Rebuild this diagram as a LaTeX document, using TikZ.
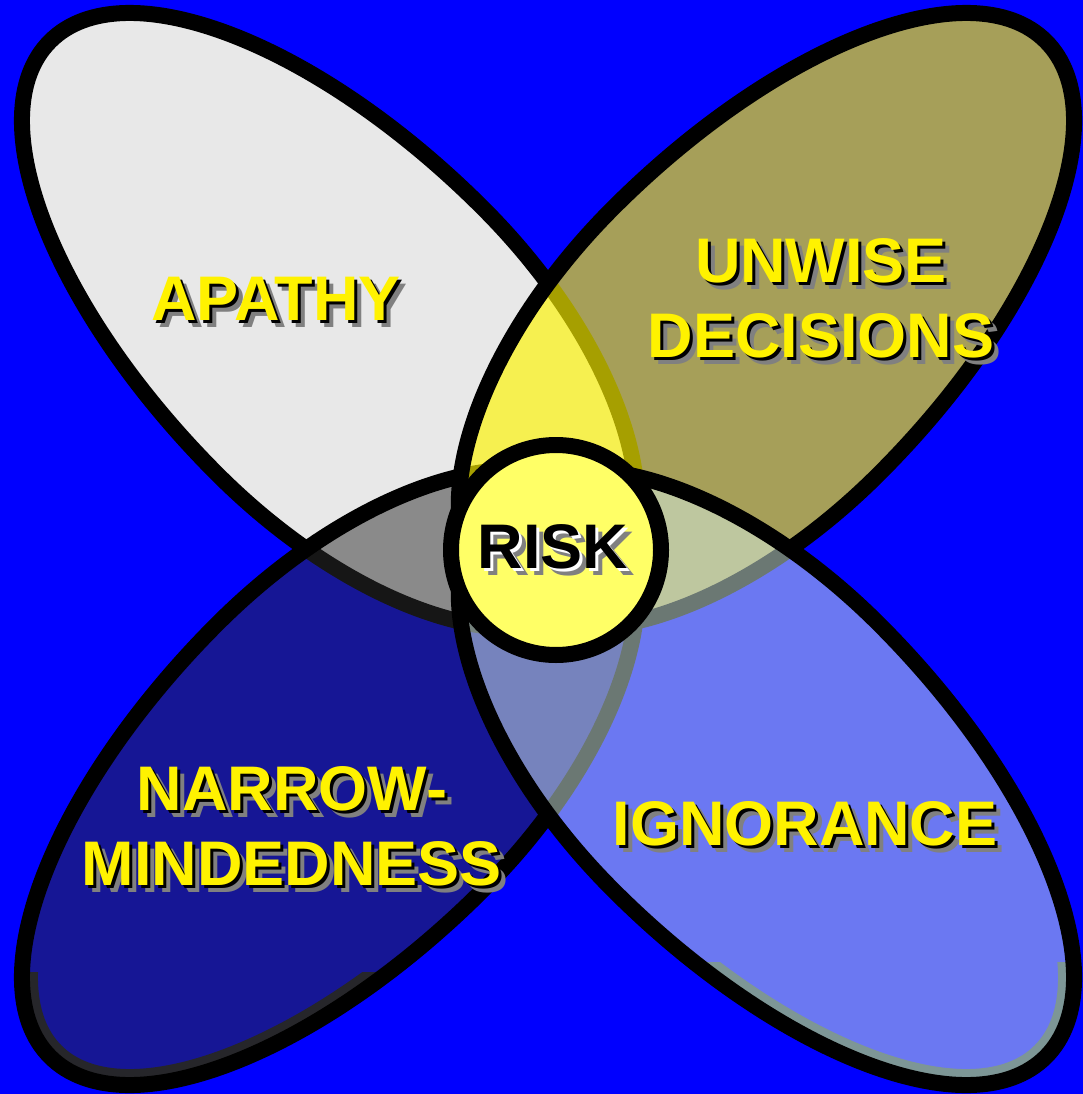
\documentclass[tikz,border=0pt]{standalone}
\usepackage{fontspec}
\setmainfont{Liberation Sans}

\definecolor{bgblue}{RGB}{0,0,255}
\definecolor{apathygray}{RGB}{232,232,232}
\definecolor{narrowink}{RGB}{45,45,45}
\definecolor{unwiseink}{RGB}{255,245,0}
\definecolor{ignorink}{RGB}{215,240,230}
\definecolor{riskyellow}{RGB}{255,255,102}
\definecolor{shadegray}{RGB}{128,128,128}
\definecolor{narrowband}{RGB}{38,38,42}
\definecolor{ignorband}{RGB}{125,150,150}

% name, position, front colour, middle colour, text
\newcommand{\shadeword}[5]{%
  \node[word, text=shadegray, xshift=7pt, yshift=-7pt] (#1-g) at (#2) {#5};
  \node[word, text=#4, xshift=3pt, yshift=-3pt] (#1-m) at (#2) {#5};
  \node[word, text=#3] (#1) at (#2) {#5};}

\begin{document}
\begin{tikzpicture}[x=1pt, y=-1pt, line join=round,
    petal/.style={line width=16pt},
    petalpath/.style={insert path={(0,-188) arc[start angle=-90, end angle=90, x radius=360, y radius=188]
      arc[start angle=90, end angle=270, x radius=424, y radius=188] -- cycle}},
    word/.style={inner sep=0pt, align=center, font=\fontsize{63}{75}\selectfont\bfseries}]
\fill[bgblue] (0,0) rectangle (1083,1094);
\useasboundingbox (0,0) rectangle (1083,1094);

\coordinate (apathy-c) at (350,341);
\coordinate (narrow-c) at (350,757);
\coordinate (unwise-c) at (746,341);
\coordinate (ignor-c)  at (746,757);

% apathy (bottom)
\begin{scope}[shift={(apathy-c)}, rotate=-45]
  \filldraw[petal, fill=apathygray, petalpath];
\end{scope}

% narrow-mindedness
\begin{scope}[shift={(narrow-c)}, rotate=45]
  \fill[narrowink, fill opacity=0.5, petalpath];
\end{scope}
\begin{scope}
  \clip (0,972) rectangle (1083,1094);
  \begin{scope}[shift={(narrow-c)}, rotate=45]
    \clip[petalpath];
    \draw[narrowband, line width=32pt, petalpath];
  \end{scope}
\end{scope}
\begin{scope}[shift={(narrow-c)}, rotate=45]
  \draw[petal, petalpath];
\end{scope}

% unwise decisions
\begin{scope}[shift={(unwise-c)}, rotate=-135]
  \filldraw[petal, fill=unwiseink, fill opacity=0.65, petalpath];
\end{scope}

% ignorance
\begin{scope}[shift={(ignor-c)}, rotate=135]
  \fill[ignorink, fill opacity=0.5, petalpath];
\end{scope}
\begin{scope}
  \clip (0,962) rectangle (1083,1094);
  \begin{scope}[shift={(ignor-c)}, rotate=135]
    \clip[petalpath];
    \draw[ignorband, line width=32pt, petalpath];
  \end{scope}
\end{scope}
\begin{scope}[shift={(ignor-c)}, rotate=135]
  \draw[petal, petalpath];
\end{scope}

% centre
\node[circle, draw, line width=16pt, fill=riskyellow, minimum size=210pt] (risk-c) at (556,550) {};

\shadeword{apathy}{276,299}{yellow}{black}{APATHY}
\shadeword{unwise}{821,298}{yellow}{black}{UNWISE\\DECISIONS}
\shadeword{ignor}{805,824}{yellow}{black}{IGNORANCE}
\shadeword{narrow}{292,826}{yellow}{black}{NARROW-\\MINDEDNESS}
\shadeword{risk}{553,547}{black}{white}{RISK}
\end{tikzpicture}
\end{document}
